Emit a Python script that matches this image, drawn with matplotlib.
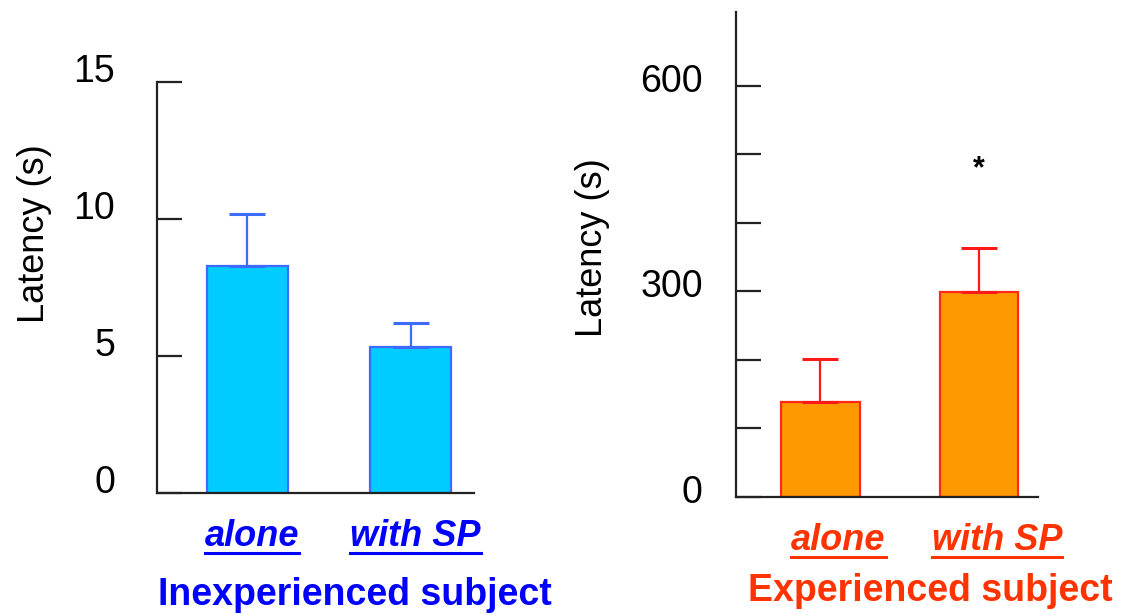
import matplotlib
matplotlib.use("Agg")
import matplotlib.pyplot as plt
import matplotlib.transforms as mtransforms
from matplotlib.lines import Line2D
import numpy as np

plt.rcParams["font.family"] = ["Liberation Sans", "DejaVu Sans"]

# data
conditions = ["alone", "with SP"]
inexp_mean = [8.28, 5.33]
inexp_err = [1.9, 0.87]
exp_mean = [139, 299]
exp_err = [62, 64]
exp_sig = ["", "*"]
star_y = 479

BLUE_TEXT = "#0000FF"
RED_TEXT = "#FF3300"
AXIS = "#222222"


def style_axis(ax, label_x, label_y, pad, xpad):
    for side in ["top", "right"]:
        ax.spines[side].set_visible(False)
    for side in ["left", "bottom"]:
        ax.spines[side].set_color(AXIS)
        ax.spines[side].set_linewidth(1.6)
    ax.tick_params(axis="y", which="both", direction="in", length=18, width=1.6,
                   color=AXIS, labelsize=27, pad=pad)
    ax.tick_params(axis="x", length=0, pad=xpad)
    ax.set_ylabel("Latency (s)", fontsize=26)
    ax.yaxis.set_label_coords(label_x, label_y)


def draw_panel(ax, means, errs, fill, edge, err_color, text_color, shift):
    x = np.arange(len(means))
    ax.bar(x, means, width=0.494, color=fill, edgecolor=edge, linewidth=1.6, zorder=2)
    ax.errorbar(x, means, yerr=[np.zeros(len(errs)), errs], fmt="none",
                ecolor=err_color, elinewidth=1.6, capsize=13, capthick=2.2, zorder=3)
    ax.set_xticks(x + shift, conditions)
    for lab in ax.get_xticklabels():
        lab.set_fontsize(26)
        lab.set_fontweight("bold")
        lab.set_fontstyle("italic")
        lab.set_color(text_color)


def lift_ylabels(ax, va, dy):
    off = mtransforms.ScaledTranslation(0, dy / 100, ax.figure.dpi_scale_trans)
    for tick in ax.yaxis.get_major_ticks():
        tick.label1.set_va(va)
        tick.label1.set_transform(tick.label1.get_transform() + off)


fig = plt.figure(figsize=(11.27, 6.15), dpi=100)

ax1 = fig.add_axes([0.1393, 0.1984, 0.2813, 0.6683])
draw_panel(ax1, inexp_mean, inexp_err, "#00CCFF", "#3D6BFF", "#3D6BFF", BLUE_TEXT, 0.03)
ax1.set_xlim(-0.552, 1.387)
ax1.set_ylim(0, 15)
ax1.set_yticks([0, 5, 10, 15])
style_axis(ax1, -0.331, 0.631, 30, 19)
lift_ylabels(ax1, "baseline", 0)

ax2 = fig.add_axes([0.6531, 0.1924, 0.268, 0.788])
draw_panel(ax2, exp_mean, exp_err, "#FF9900", "#FF2A1A", "#FF1A1A", RED_TEXT, 0.114)
ax2.set_xlim(-0.532, 1.373)
ax2.set_ylim(0, 708)
ax2.set_yticks([0, 300, 600])
ax2.set_yticks([100, 200, 400, 500], minor=True)
style_axis(ax2, -0.417, 0.514, 24, 19)
lift_ylabels(ax2, "center", 4)
for i, s in enumerate(exp_sig):
    if s:
        ax2.text(i, star_y, s, ha="center", va="center", fontsize=22,
                 fontweight="bold", color="black")

fig.text(355 / 1127, 1 - 605 / 615, "Inexperienced subject", ha="center",
         va="baseline", fontsize=27, fontweight="bold", color=BLUE_TEXT)
fig.text(930 / 1127, 1 - 601 / 615, "Experienced subject", ha="center",
         va="baseline", fontsize=27, fontweight="bold", color=RED_TEXT)

# underline the condition labels
fig.canvas.draw()
renderer = fig.canvas.get_renderer()
for ax, col in [(ax1, BLUE_TEXT), (ax2, RED_TEXT)]:
    for lab in ax.get_xticklabels():
        bb = lab.get_window_extent(renderer)
        y = bb.y0 + 1
        fig.add_artist(Line2D([bb.x0, bb.x1], [y, y], transform=None,
                              color=col, linewidth=2.2))

fig.savefig("out.png", dpi=100)
